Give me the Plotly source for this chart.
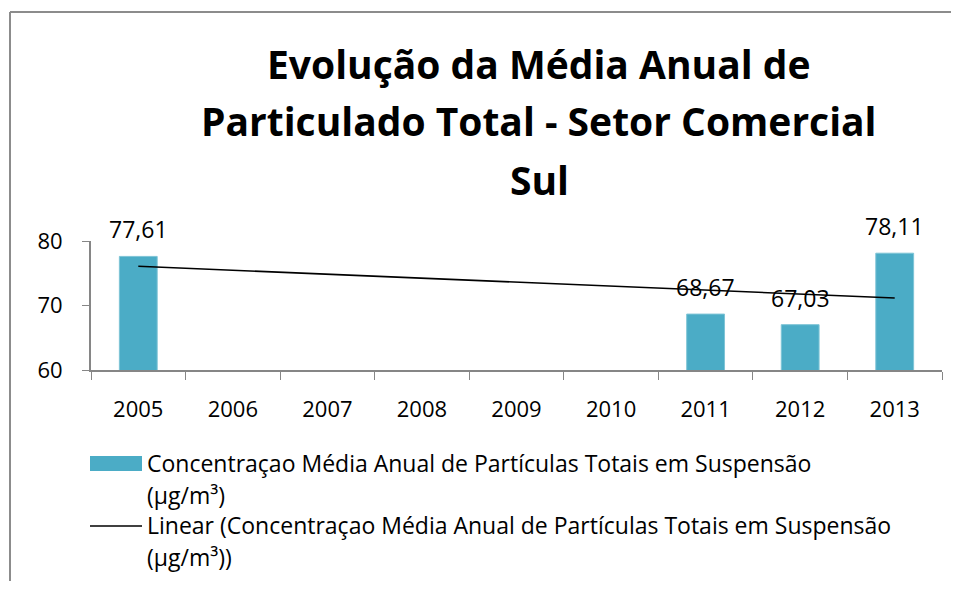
import numpy as np
import plotly.graph_objects as go

# Data
years = ['2005', '2006', '2007', '2008', '2009', '2010', '2011', '2012', '2013']
pts_values = [77.61, None, None, None, None, None, 68.67, 67.03, 78.11]
y_ticks = [60, 70, 80]

SERIES_NAME = 'Concentraçao Média Anual de Partículas Totais em Suspensão'
TITLE_LINES = ['Evolução da Média Anual de', 'Particulado Total - Setor Comercial', 'Sul']
BAR_COLOR = '#4BACC6'
AXIS_COLOR = '#868686'
FONT = 'Open Sans'

# Excel-style linear trendline over the years that have a value
idx = np.array([i + 1 for i, v in enumerate(pts_values) if v is not None])
vals = np.array([v for v in pts_values if v is not None])
slope, intercept = np.polyfit(idx, vals, 1)
trend_x = [years[idx[0] - 1], years[idx[-1] - 1]]
trend_y = [slope * idx[0] + intercept, slope * idx[-1] + intercept]

# page geometry: the figure sits 8px in from the page corner (body margin),
# sized so the page does not overflow the window
OFF = 8
W, H = 943, 573
L, R, T, B = 83, 9, 233, 211
PW, PH = W - L - R, H - T - B


def px(x):
    # page pixel x -> paper coordinate
    return (x - OFF - L) / PW


def py(y):
    # page pixel y -> paper coordinate
    return (H - B - (y - OFF)) / PH


fig = go.Figure()

fig.add_trace(go.Bar(
    x=years, y=pts_values,
    marker=dict(color=BAR_COLOR, line=dict(color='#7ec4d6', width=1)),
    width=0.4,
    name=SERIES_NAME,
    showlegend=False,
))

fig.add_trace(go.Scatter(
    x=trend_x, y=trend_y,
    mode='lines',
    line=dict(color='black', width=1.6),
    showlegend=False,
))

# Data labels
for i, v in enumerate(pts_values):
    if v is None:
        continue
    fig.add_annotation(
        x=i, y=v, text=f'{v:.2f}'.replace('.', ','),
        showarrow=False, yshift=27,
        font=dict(size=23, color='black', family=FONT),
    )

# Title, one line per annotation to keep Excel's line spacing
for ypix, line in zip([64, 121, 179], TITLE_LINES):
    fig.add_annotation(
        xref='paper', yref='paper', x=px(539), y=py(ypix),
        xanchor='center', yanchor='middle', text=f'<b>{line}</b>',
        showarrow=False, font=dict(size=39, color='black', family=FONT),
    )

# Legend (drawn by hand to mimic Excel's wide swatches)
fig.add_shape(type='rect', xref='paper', yref='paper',
              x0=px(90), x1=px(142), y0=py(471), y1=py(456),
              fillcolor=BAR_COLOR, line=dict(width=0))
fig.add_shape(type='line', xref='paper', yref='paper',
              x0=px(90), x1=px(142), y0=py(526), y1=py(526),
              line=dict(color='black', width=1.6))
legend_lines = [
    (463, SERIES_NAME),
    (495, '(µg/m³)'),
    (525, 'Linear (' + SERIES_NAME),
    (557, '(µg/m³))'),
]
for ypix, txt in legend_lines:
    fig.add_annotation(
        xref='paper', yref='paper', x=px(145), y=py(ypix),
        xanchor='left', yanchor='middle', text=txt, showarrow=False,
        font=dict(size=23, color='black', family=FONT),
    )

# Chart-area frame: only its left and top edges show in the cropped original
frame = dict(color='#8c8c8c', width=2)
fig.add_shape(type='line', xref='paper', yref='paper',
              x0=px(10), x1=px(10), y0=py(700), y1=py(12), line=frame)
fig.add_shape(type='line', xref='paper', yref='paper',
              x0=px(10), x1=px(1100), y0=py(12), y1=py(12), line=frame)

fig.update_xaxes(
    type='category', tickson='boundaries', range=[-0.5, len(years) - 0.5],
    ticks='outside', ticklen=8, tickcolor=AXIS_COLOR,
    showline=True, linecolor=AXIS_COLOR, linewidth=2,
    showgrid=False, ticklabelstandoff=19, tickangle=0,
    tickfont=dict(size=22, color='black', family=FONT),
)
fig.update_yaxes(
    range=[60, 80], tickvals=y_ticks,
    ticks='outside', ticklen=7, tickcolor=AXIS_COLOR,
    showline=True, linecolor=AXIS_COLOR, linewidth=2,
    showgrid=False, zeroline=False, ticklabelstandoff=15,
    tickfont=dict(size=22, color='black', family=FONT),
)

fig.update_layout(
    width=W, height=H,
    font=dict(family=FONT, color='black'),
    plot_bgcolor='white',
    paper_bgcolor='white',
    showlegend=False,
    margin=dict(l=L, r=R, t=T, b=B),
)

fig.write_html('out.html', config={'displayModeBar': False})
